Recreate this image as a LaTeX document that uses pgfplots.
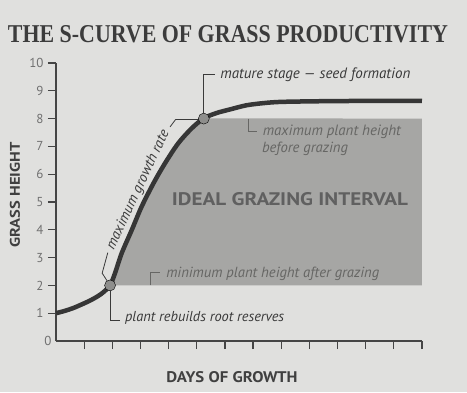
\documentclass[border=0pt]{standalone}
\usepackage{pgfplots}
\pgfplotsset{compat=1.18}
\usepackage{fontspec}
\setmainfont{PT Sans}
\newfontfamily\titlefont{Liberation Serif}
\usepackage{graphicx}
\definecolor{paper}{HTML}{E0E0DE}
\definecolor{rectc}{HTML}{A6A6A4}
\definecolor{curvec}{HTML}{363636}
\definecolor{dotc}{HTML}{8E8E8C}
\definecolor{axisc}{HTML}{454545}
\definecolor{ticklab}{HTML}{707070}
\definecolor{darktext}{HTML}{3A3A3A}
\definecolor{recttext}{HTML}{666664}
\definecolor{idealtext}{HTML}{606060}
\definecolor{titlec}{HTML}{3C3C3C}
\definecolor{labelc}{HTML}{404040}

\pgfplotstableread{
x y
0 1.00
0.3 1.08
0.6 1.18
0.9 1.31
1.2 1.45
1.5 1.62
1.7 1.77
1.92 2.00
2.1 2.45
2.33 3.15
2.69 3.99
3.04 4.83
3.46 5.67
3.87 6.39
4.34 7.11
4.82 7.65
5.25 8.01
5.7 8.20
6.18 8.33
6.77 8.48
7.4 8.56
7.96 8.60
9 8.62
10 8.63
11.5 8.64
13 8.64
}\curvedata

\begin{document}
\begin{tikzpicture}[x=1pt,y=1pt]
\fill[paper] (-56,-51) rectangle (411,341);
\useasboundingbox (-56,-51) rectangle (411,341);
\begin{axis}[
  at={(0,0)}, anchor=south west,
  scale only axis, width=366pt, height=278pt,
  xmin=0, xmax=13, ymin=0, ymax=10,
  axis lines=left, axis line style={-, draw=axisc, line width=1.4pt},
  clip=false,
  xtick={1,...,13}, xticklabels={},
  ytick={1,...,10},
  extra y ticks={0}, extra y tick style={major tick length=0pt},
  tick align=outside, major tick length=8pt,
  tick style={draw=axisc, line width=1.3pt},
  /pgf/number format/assume math mode=true,
  yticklabel style={font=\fontsize{13}{13}\selectfont, text=ticklab, xshift=-1pt},
]
% grazing interval area
\addplot[fill=rectc, draw=none] coordinates {
 (1.92,2.00) (2.1,2.45) (2.33,3.15) (2.69,3.99) (3.04,4.83) (3.46,5.67)
 (3.87,6.39) (4.34,7.11) (4.82,7.65) (5.25,8.01) (13,8) (13,2)} -- cycle;
% S-curve
\addplot[draw=curvec, line width=4.5pt, smooth, tension=0.5] table[x=x,y=y] {\curvedata};
% key points
\addplot[only marks, mark=*, mark size=5.5pt, mark options={fill=dotc, draw=none}]
  coordinates {(1.92,2.0) (5.25,8.0)};

% leaders
\draw[darktext, line width=0.8pt] (axis cs:5.25,8) -- (axis cs:5.25,9.6) -- (axis cs:5.65,9.6);
\draw[darktext, line width=0.8pt] (axis cs:1.92,2) -- (axis cs:1.92,0.73) -- (axis cs:2.27,0.73);
\draw[darktext, line width=0.8pt] (axis cs:1.92,2) -- (axis cs:1.64,2.44) -- (axis cs:1.84,3.18);
\draw[darktext, line width=0.8pt] (axis cs:4.05,7.7) -- (axis cs:4.25,7.97) -- (axis cs:5.1,7.97);
\draw[recttext, line width=0.8pt] (axis cs:6.83,8) -- (axis cs:6.83,7.53) -- (axis cs:7.13,7.53);
\draw[recttext, line width=0.8pt] (axis cs:3.34,2) -- (axis cs:3.34,2.45) -- (axis cs:3.69,2.45);

% annotations
\node[anchor=west, inner sep=0, text=darktext] at (axis cs:5.83,9.59)
  {\resizebox{190pt}{!}{\itshape mature stage — seed formation}};
\node[anchor=west, inner sep=0, text=recttext] at (axis cs:7.34,7.53)
  {\resizebox{138pt}{!}{\itshape maximum plant height}};
\node[anchor=west, inner sep=0, text=recttext] at (axis cs:7.31,6.93)
  {\resizebox{86pt}{!}{\itshape before grazing}};
\node[anchor=west, inner sep=0, text=recttext] at (axis cs:3.91,2.41)
  {\resizebox{213pt}{!}{\itshape minimum plant height after grazing}};
\node[anchor=west, inner sep=0, text=darktext] at (axis cs:2.45,0.82)
  {\resizebox{159pt}{!}{\itshape plant rebuilds root reserves}};
\node[rotate=64.8, inner sep=0, text=darktext] at (axis cs:2.92,5.43)
  {\resizebox{130pt}{!}{\itshape maximum growth rate}};
\node[inner sep=0, text=idealtext] at (axis cs:8.31,5.09)
  {\resizebox{236pt}{13pt}{\bfseries IDEAL GRAZING INTERVAL}};
\end{axis}
% title and axis labels
\node[anchor=base, inner sep=0, text=titlec] at (172,299)
  {\resizebox{440pt}{17pt}{\titlefont\bfseries THE S-CURVE OF GRASS PRODUCTIVITY}};
\node[rotate=90, inner sep=0, text=labelc] at (-41,146)
  {\resizebox{105pt}{10pt}{\bfseries GRASS HEIGHT}};
\node[inner sep=0, text=labelc] at (176,-36)
  {\resizebox{131pt}{11pt}{\bfseries DAYS OF GROWTH}};
\end{tikzpicture}
\end{document}
